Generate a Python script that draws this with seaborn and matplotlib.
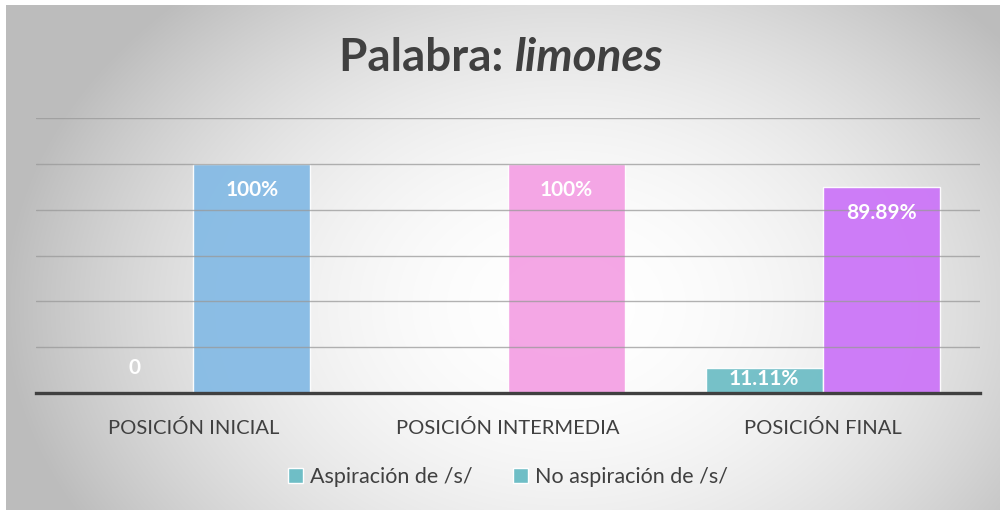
import numpy as np
import pandas as pd
import matplotlib
matplotlib.use("Agg")
import matplotlib.pyplot as plt
import seaborn as sns

# ---- data ----
categories = ["POSICIÓN INICIAL", "POSICIÓN INTERMEDIA", "POSICIÓN FINAL"]
series_names = ["Aspiración de /s/", "No aspiración de /s/"]
aspiracion = [0.0, np.nan, 11.11]
no_aspiracion = [100.0, 100.0, 89.89]
labels_aspiracion = ["0", "", "11.11%"]
labels_no_aspiracion = ["100%", "100%", "89.89%"]

teal = "#6fbec6"
no_asp_colors = ["#86bbe5", "#f4a2e4", "#cc76f8"]

df = pd.DataFrame({
    "cat": categories * 2,
    "serie": [series_names[0]] * 3 + [series_names[1]] * 3,
    "val": aspiracion + no_aspiracion,
})

sns.set_theme(style="white")
plt.rcParams["font.family"] = ["Lato", "DejaVu Sans"]

W, H = 1000, 513
fig = plt.figure(figsize=(W / 100, H / 100), dpi=100)
fig.patch.set_facecolor("white")

# radial gradient background
bg = fig.add_axes([6 / W, 3 / H, 994 / W, 505 / H])
yy, xx = np.mgrid[0:505, 0:994]
cx, cy, rx, ry = 560, 300, 560, 420
d2 = ((xx - cx) / rx) ** 2 + ((yy - cy) / ry) ** 2
g = np.clip(255 - 66 * d2, 188, 255) / 255.0
bg.imshow(np.dstack([g, g, g]), aspect="auto", extent=[0, 1, 0, 1], origin="upper")
bg.set_axis_off()

# main axes: x 36..980 px, y 118..393 px
ax = fig.add_axes([36 / W, 1 - 393 / H, 944 / W, (393 - 118) / H])
ax.patch.set_alpha(0)

sns.barplot(data=df, x="cat", y="val", hue="serie", order=categories,
            hue_order=series_names, palette={series_names[0]: teal, series_names[1]: teal},
            width=0.744, ax=ax, zorder=2, saturation=1, legend=True)

def cat_index(patch):
    return int(round(patch.get_x() + patch.get_width() / 2))

# recolour the "No aspiración" bars per category
for patch in ax.containers[1].patches:
    patch.set_facecolor(no_asp_colors[cat_index(patch)])
for cont in ax.containers:
    for patch in cont.patches:
        patch.set_alpha(0.95)
        patch.set_edgecolor((1, 1, 1, 0.5))
        patch.set_linewidth(1.0)

ax.set_ylim(0, 120)
ax.set_xlim(-0.5, 2.5)
ax.set_yticks(np.arange(20, 121, 20))
ax.yaxis.grid(True, color="#999999", linewidth=1.0, zorder=3)
ax.set_axisbelow(False)
for gl in ax.get_ygridlines():
    gl.set_zorder(3)
    gl.set_alpha(0.75)
ax.tick_params(axis="y", left=False, labelleft=False)
ax.tick_params(axis="x", bottom=False, pad=13, labelsize=14.5, labelcolor="#404040")
ax.set_xlabel("")
ax.set_ylabel("")
for s in ["top", "right", "left"]:
    ax.spines[s].set_visible(False)
ax.spines["bottom"].set_color("#404040")
ax.spines["bottom"].set_linewidth(2.4)
ax.spines["bottom"].set_zorder(5)

# data labels
def label_y(v):
    if v >= 20:
        return v - 11.3
    elif v > 0:
        return v / 2 + 0.6
    return 10.9

for cont, labs in zip(ax.containers, [labels_aspiracion, labels_no_aspiracion]):
    for patch in cont.patches:
        i = cat_index(patch)
        lab = labs[i]
        if not lab:
            continue
        h = patch.get_height()
        h = 0 if np.isnan(h) else h
        xc = patch.get_x() + patch.get_width() / 2
        ax.text(xc, label_y(h), lab, ha="center", va="center", color="white",
                fontsize=15, fontweight="bold", zorder=6)

# legend
leg = ax.legend(loc="center", bbox_to_anchor=(0.5, (393 - 477) / 275), ncol=2,
                frameon=False, fontsize=15.5, handlelength=0.7, handleheight=0.7,
                handletextpad=0.3, columnspacing=1.9, labelcolor="#404040")

# title
fig.text(0.514, 1 - 58 / H, "Palabra: ", ha="right", va="center", fontsize=33,
         fontweight="bold", color="#404040")
fig.text(0.514, 1 - 58 / H, "limones", ha="left", va="center", fontsize=33,
         fontweight="bold", fontstyle="italic", color="#404040")

fig.savefig("out.png", dpi=100, facecolor="white")
